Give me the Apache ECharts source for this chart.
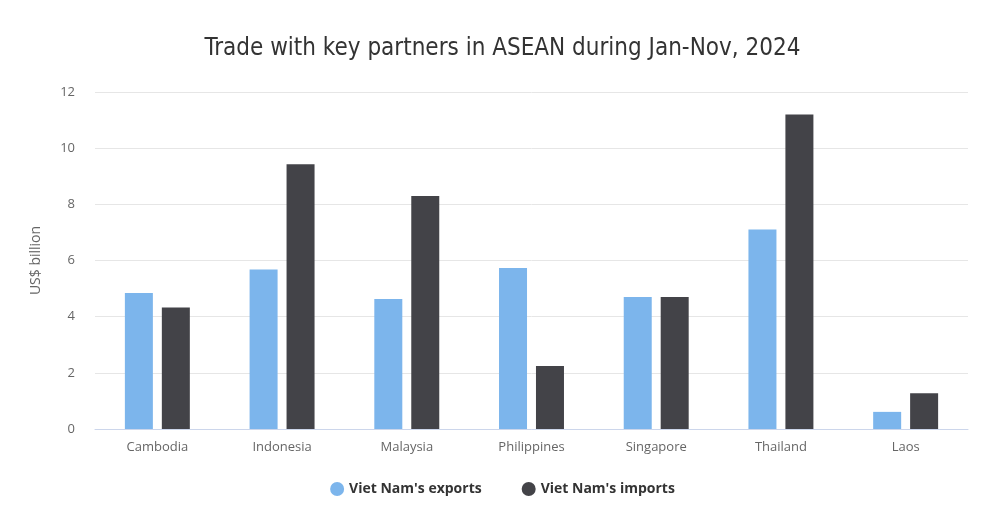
<!DOCTYPE html>
<html>
<head>
<meta charset="utf-8">
<script src="https://cdn.jsdelivr.net/npm/echarts@6/dist/echarts.min.js"></script>
<style>
  html, body { margin: 0; padding: 0; background: #fff; }
  #chart { width: 1005px; height: 510px; }
</style>
</head>
<body>
<div id="chart"></div>
<script>
// data (US$ billion)
const partners = ["Cambodia", "Indonesia", "Malaysia", "Philippines", "Singapore", "Thailand", "Laos"];
const exportsVN = [4.84, 5.68, 4.63, 5.73, 4.70, 7.10, 0.61];
const importsVN = [4.33, 9.43, 8.30, 2.24, 4.70, 11.2, 1.27];
const seriesNames = ["Viet Nam's exports", "Viet Nam's imports"];

const chart = echarts.init(document.getElementById("chart"), null, { renderer: "canvas" });

chart.setOption({
  animation: false,
  color: ["#7cb5ec", "#434348"],
  title: {
    text: "Trade with key partners in ASEAN during Jan-Nov, 2024",
    left: "center",
    top: 32,
    textStyle: {
      fontFamily: "DejaVu Sans Condensed",
      fontWeight: "normal",
      fontSize: 24,
      color: "#333333"
    }
  },
  legend: {
    bottom: 9,
    left: "center",
    icon: "circle",
    itemWidth: 14,
    itemHeight: 14,
    itemGap: 40,
    textStyle: { fontSize: 14, fontWeight: "bold", color: "#333333", fontFamily: "Open Sans" },
    data: seriesNames
  },
  grid: { left: 95, right: 37, top: 92, bottom: 81 },
  xAxis: {
    type: "category",
    data: partners,
    axisTick: { show: false },
    axisLine: { lineStyle: { color: "#ccd6eb" } },
    axisLabel: { color: "#666666", fontSize: 13, margin: 12, fontFamily: "Open Sans" }
  },
  yAxis: {
    type: "value",
    min: 0,
    max: 12,
    interval: 2,
    name: "US$ billion",
    nameLocation: "middle",
    nameGap: 52,
    nameTextStyle: { color: "#666666", fontSize: 14, fontFamily: "Open Sans" },
    axisLabel: { color: "#666666", fontSize: 13, margin: 20, fontFamily: "Open Sans" },
    splitLine: { lineStyle: { color: "#e6e6e6" } }
  },
  series: [
    { name: seriesNames[0], type: "bar", data: exportsVN, barWidth: 28, barGap: "32%" },
    { name: seriesNames[1], type: "bar", data: importsVN, barWidth: 28, barGap: "32%" }
  ]
});
</script>
</body>
</html>
